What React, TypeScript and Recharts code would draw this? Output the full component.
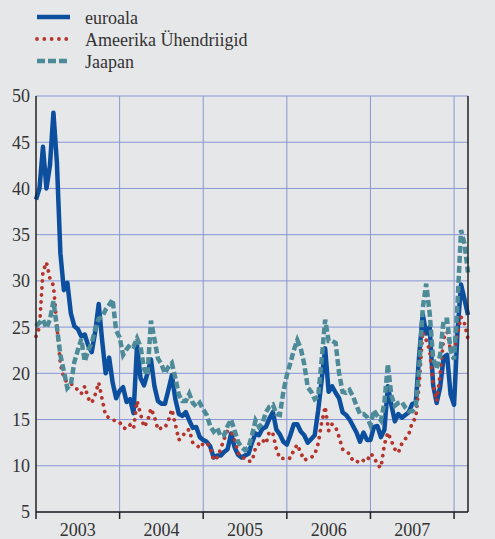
import React from "react";
import { LineChart, Line, XAxis, YAxis, CartesianGrid, ReferenceLine } from "recharts";

// half-month observations, Jan 2003 .. Feb 2008 (index 0 = start of 2003)
const euroala = [
  38.8, 40, 44.5, 40, 42.5, 48.2, 42.8, 33, 29, 29.8, 26.5, 25.1, 24.8, 24, 24.2, 23, 22.3, 24.5, 27.5, 23.5, 20, 21.7, 19, 17.3,
  18.1, 18.5, 16.9, 17.2, 15.7, 23, 19.5, 18.7, 20, 21.5, 18.6, 17, 16.7, 16.7, 18.2, 19.8, 17.2, 15.6, 15.4, 15.8, 14.9, 14.1, 14.2, 13.1,
  12.8, 12.6, 12.1, 10.9, 11.1, 11.1, 11.5, 11.8, 13.5, 12.0, 11.2, 10.9, 11.1, 11.3, 12.5, 13.5, 13.3, 14, 14.2, 15.1, 15.8, 13.9, 13.4, 12.6,
  12.3, 13.3, 14.5, 14.5, 13.7, 13.3, 12.5, 12.9, 13.3, 16, 19.3, 22.7, 18.0, 18.6, 17.9, 17.3, 15.8, 15.5, 15.0, 14.3, 13.6, 12.6, 13.6, 12.8,
  12.8, 14.2, 14.3, 13.1, 13.9, 18.6, 16.6, 14.8, 15.6, 15.2, 15.5, 15.8, 16.7, 16.8, 22, 26.4, 24.3, 25, 18.7, 16.8, 18.5, 21.7, 22, 17.7,
  16.6, 24.6, 29.6, 28, 26.3,
];

const usa = [
  24, 25, 31, 32, 30.3, 29.5, 25.1, 21, 19.5, 19, 18.9, 18.6, 18.2, 17.8, 18.6, 17.3, 16.8, 17.7, 19, 17.2, 15.4, 15.2, 15, 14.8,
  14.7, 14.1, 14.0, 14.4, 14.0, 17, 15.6, 14.2, 14.8, 16.2, 15.3, 13.9, 14.1, 14.1, 14.9, 16.1, 14.5, 12.8, 13.1, 13.8, 13.9, 12.5, 12.3, 11.9,
  12.4, 12.5, 12.0, 10.6, 10.9, 11.8, 12.9, 13.8, 13.7, 12.8, 11.4, 10.9, 10.8, 10.5, 10.5, 11.9, 12.4, 12.8, 12.4, 13.7, 13.5, 11.8, 10.8, 10.8,
  10.9, 10.8, 11.7, 12.3, 11.4, 10.6, 10.8, 10.9, 11.2, 12.4, 14.7, 16.4, 13.8, 14.5, 14.2, 13.1, 11.8, 11.5, 11.3, 10.5, 10.5, 10.3, 10.6, 10.5,
  11.3, 11.0, 10.1, 9.8, 12.3, 13.6, 12.7, 11.8, 11.4, 12.4, 12.9, 13.4, 14.7, 15.2, 18.8, 24.5, 23.6, 22.5, 18.8, 17.0, 19.9, 23.8, 24.5, 22.5,
  22.5, 24.3, 26.1, 25.4, 23.7,
];

const jaapan = [
  25.1, 25.5, 25.8, 24.9, 25.8, 27.8, 25, 22, 20.2, 18.4, 18.8, 21.2, 22.5, 23.7, 21.3, 22.5, 23.3, 24.8, 25.9, 26.1, 26.9, 27.4, 28, 24.6,
  23.9, 22.0, 22.6, 23.1, 22.9, 23.8, 22.9, 20.5, 19.8, 25.7, 23.7, 21.6, 21.0, 20, 20.7, 21.1, 19.5, 17.7, 17.0, 17.0, 17.8, 16.8, 16.4, 16.8,
  16.1, 15.5, 14.3, 13.7, 14.1, 13.2, 13.3, 14.3, 15.0, 13.8, 12.6, 12.0, 11.7, 12.0, 13.3, 14.9, 14.2, 14.6, 15.8, 16.4, 16.6, 15.6, 15.5, 18,
  19.8, 21.1, 22.5, 23.6, 22.7, 21.0, 18.5, 18.0, 17.2, 17.5, 21.5, 25.8, 23.5, 23.5, 23.3, 20.0, 18, 17.9, 18.2, 17.5, 16.5, 15.6, 15.6, 15.3,
  14.4, 16.0, 15.4, 14.9, 16.8, 21.0, 17.6, 16.5, 16.8, 16.9, 16.3, 15.9, 15.9, 16.4, 20.6, 27.0, 29.7, 26.5, 21.6, 20.5, 22, 25.8, 25.8, 22.5,
  21.5, 27.6, 35.5, 34.0, 30.9,
];

const years = ["2003", "2004", "2005", "2006", "2007"];
const yearStarts = [0, 24, 48, 72, 96, 120];
const yTicks = [5, 10, 15, 20, 25, 30, 35, 40, 45, 50];

const seriesNames = ["euroala", "Ameerika Ühendriigid", "Jaapan"];

const BLUE = "#0b4f9e";
const RED = "#b5352d";
const TEAL = "#4e8b98";
const GRID = "#8797d3";
const AXIS = "#222";
const FONT = "'Liberation Serif', 'Times New Roman', serif";

const data = euroala.map((v, i) => ({ i, euroala: v, usa: usa[i], jaapan: jaapan[i] }));

// ticks at year starts draw the tick mark, ticks at mid-year carry the label
const xTicks = [0, 12, 24, 36, 48, 60, 72, 84, 96, 108, 120];

function YearTick(props: any) {
  const { x, y, payload } = props;
  const v = payload.value;
  if (v % 24 === 0) {
    return <line x1={x} x2={x} y1={y - 8} y2={y - 1} stroke={AXIS} strokeWidth={1.5} />;
  }
  const label = years[Math.floor(v / 24)];
  return (
    <text x={x} y={y + 16} textAnchor="middle" fill="#333" fontSize={18} fontFamily={FONT}>
      {label}
    </text>
  );
}

function LegendBox() {
  const items = [
    { name: seriesNames[0], color: BLUE, dash: undefined, width: 4.5, cap: "butt" },
    { name: seriesNames[1], color: RED, dash: "0.01 7.3", width: 3.8, cap: "round" },
    { name: seriesNames[2], color: TEAL, dash: "8 3", width: 4.5, cap: "butt" },
  ];
  return (
    <svg width={300} height={75} style={{ position: "absolute", left: 0, top: 0 }}>
      {items.map((it, k) => (
        <g key={it.name}>
          <line
            x1={37}
            x2={70}
            y1={17 + k * 22}
            y2={17 + k * 22}
            stroke={it.color}
            strokeWidth={it.width}
            strokeDasharray={it.dash}
            strokeLinecap={it.cap as any}
          />
          <text x={85} y={24 + k * 22} fill="#333" fontSize={18} fontFamily={FONT}>
            {it.name}
          </text>
        </g>
      ))}
    </svg>
  );
}

export default function App() {
  return (
    <div style={{ position: "absolute", left: 0, top: 0, width: 495, height: 539, background: "#e6e7e9" }}>
      <LegendBox />
      <LineChart width={495} height={539} data={data} margin={{ top: 96, right: 0, bottom: 0, left: 0 }}>
        <CartesianGrid vertical={false} stroke={GRID} strokeWidth={1} yAxisId="l" />
        <XAxis
          dataKey="i"
          type="number"
          domain={[0, 124]}
          ticks={xTicks}
          interval={0}
          height={27}
          tickLine={false}
          axisLine={{ stroke: AXIS, strokeWidth: 1.5 }}
          tick={<YearTick />}
        />
        <YAxis
          yAxisId="l"
          domain={[5, 50]}
          ticks={yTicks}
          width={36}
          tickLine={false}
          tickSize={4}
          tickMargin={2}
          axisLine={{ stroke: AXIS, strokeWidth: 1.5 }}
          tick={{ fill: "#333", fontSize: 18, fontFamily: FONT }}
        />
        <YAxis
          yAxisId="r"
          orientation="right"
          domain={[5, 50]}
          ticks={yTicks}
          width={27}
          tickLine={false}
          tickSize={5}
          tickMargin={2}
          axisLine={{ stroke: AXIS, strokeWidth: 1.5 }}
          tick={{ fill: "#333", fontSize: 18, fontFamily: FONT, textAnchor: "start" }}
        />
        {yearStarts.slice(1).map((s) => (
          <ReferenceLine key={s} x={s} yAxisId="l" stroke={GRID} strokeWidth={1} />
        ))}
        <Line
          yAxisId="l"
          dataKey="euroala"
          name={seriesNames[0]}
          stroke={BLUE}
          strokeWidth={4.5}
          strokeLinejoin="round"
          dot={false}
          type="linear"
          isAnimationActive={false}
        />
        <Line
          yAxisId="l"
          dataKey="usa"
          name={seriesNames[1]}
          stroke={RED}
          strokeWidth={3.8}
          strokeDasharray="0.01 7"
          strokeLinecap="round"
          dot={false}
          type="linear"
          isAnimationActive={false}
        />
        <Line
          yAxisId="l"
          dataKey="jaapan"
          name={seriesNames[2]}
          stroke={TEAL}
          strokeWidth={4.5}
          strokeDasharray="7 3"
          dot={false}
          type="linear"
          isAnimationActive={false}
        />
      </LineChart>
    </div>
  );
}
